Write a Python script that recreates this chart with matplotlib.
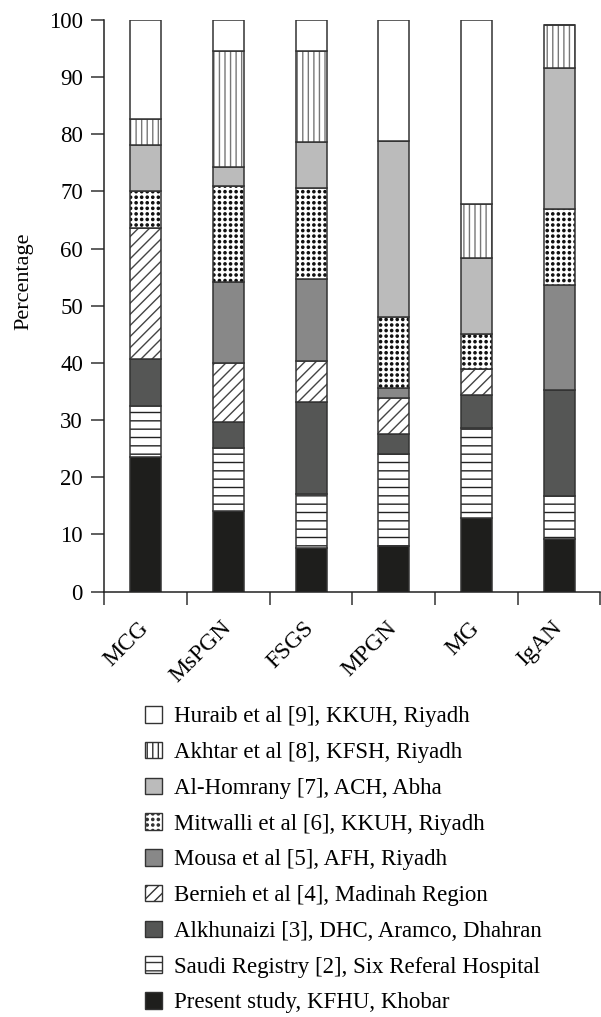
import matplotlib
matplotlib.use("Agg")
import matplotlib.pyplot as plt
import matplotlib.hatch as mhatch
from matplotlib.path import Path
import numpy as np

plt.rcParams['font.family'] = ['Liberation Serif', 'DejaVu Serif']
plt.rcParams['hatch.linewidth'] = 1.0


class GridDots(mhatch.HatchPatternBase):
    # '.' hatch as a square grid of filled dots (default one is staggered)
    def __init__(self, hatch, density):
        self.num_rows = hatch.count('.') * density
        circle = Path.unit_circle()
        self.shape_vertices = circle.vertices
        self.shape_codes = circle.codes
        self.num_vertices = self.num_rows ** 2 * len(self.shape_vertices)

    def set_vertices_and_codes(self, vertices, codes):
        offset = 1.0 / self.num_rows
        shape = self.shape_vertices * offset * 0.2
        n = len(shape)
        k = 0
        for i in range(self.num_rows):
            for j in range(self.num_rows):
                vertices[k:k + n] = shape + ((j + 0.5) * offset, (i + 0.5) * offset)
                codes[k:k + n] = self.shape_codes
                k += n


mhatch._hatch_types[mhatch._hatch_types.index(mhatch.SmallFilledCircles)] = GridDots

# glomerular disease types
categories = ["MCG", "MsPGN", "FSGS", "MPGN", "MG", "IgAN"]

# series, bottom to top (percent of cases)
studies = [
    "Present study, KFHU, Khobar",
    "Saudi Registry [2], Six Referal Hospital",
    "Alkhunaizi [3], DHC, Aramco, Dhahran",
    "Bernieh et al [4], Madinah Region",
    "Mousa et al [5], AFH, Riyadh",
    "Mitwalli et al [6], KKUH, Riyadh",
    "Al-Homrany [7], ACH, Abha",
    "Akhtar et al [8], KFSH, Riyadh",
    "Huraib et al [9], KKUH, Riyadh",
]
present   = [23.5, 14.0, 7.6, 7.9, 12.9, 9.1]
saudi_reg = [9.0, 11.1, 9.5, 16.2, 15.7, 7.6]
alkhun    = [8.1, 4.6, 16.1, 3.5, 5.7, 18.5]
bernieh   = [23.0, 10.3, 7.2, 6.3, 4.6, 0.0]
mousa     = [0.0, 14.2, 14.3, 1.7, 0.0, 18.5]
mitwalli  = [6.5, 16.8, 15.9, 12.4, 6.2, 13.2]
homrany   = [8.0, 3.3, 8.0, 30.8, 13.2, 24.7]
akhtar    = [4.5, 20.3, 16.0, 0.0, 9.5, 7.6]
huraib    = [17.4, 5.4, 5.4, 21.2, 32.2, 0.0]
series = [present, saudi_reg, alkhun, bernieh, mousa, mitwalli, homrany, akhtar, huraib]

# (face colour, hatch, hatch colour) per series
styles = [
    ("#1e1e1c", None, "#1e1e1c"),
    ("white", "--", "#222222"),
    ("#555655", None, "#555655"),
    ("white", "///", "#444444"),
    ("#888888", None, "#888888"),
    ("white", "...", "#111111"),
    ("#bbbbbb", None, "#bbbbbb"),
    ("white", "|||", "#777777"),
    ("white", None, "white"),
]

fig = plt.figure(figsize=(6.01, 10.17), dpi=100)
ax = fig.add_axes([104.3 / 601, 1 - 591.5 / 1017, 496.2 / 601, 571.5 / 1017])

x = np.arange(len(categories))
width = 0.375
bottom = np.zeros(len(categories))
handles = []
for vals, (fc, hatch, hc), name in zip(series, styles, studies):
    vals = np.array(vals)
    ax.bar(x, vals, width, bottom=bottom, color=fc, edgecolor=hc,
           linewidth=0, hatch=hatch)
    ax.bar(x, vals, width, bottom=bottom, fill=False, edgecolor="#333333",
           linewidth=1.1)
    bottom += vals
    handles.append(plt.Rectangle((0, 0), 1, 1, facecolor=fc, hatch=hatch,
                                 edgecolor="#333333", linewidth=1.0))

ax.set_xlim(-0.5, len(categories) - 0.5)
ax.set_ylim(0, 100)
ax.set_yticks(np.arange(0, 101, 10))
ax.set_xticks(np.arange(-0.5, len(categories), 1.0))
ax.set_xticklabels([])
ax.set_xticks(x, minor=True)
ax.set_xticklabels(categories, minor=True, rotation=45, ha="right",
                   va="center", rotation_mode="anchor", fontsize=17)
ax.tick_params(axis="x", which="minor", length=0, pad=24)
ax.tick_params(axis="both", which="major", direction="out", length=9.4,
               width=1.1, color="#333333", labelsize=16.5)
ax.tick_params(axis="y", pad=6)

for s in ["top", "right"]:
    ax.spines[s].set_visible(False)
for s in ["left", "bottom"]:
    ax.spines[s].set_color("#222222")
    ax.spines[s].set_linewidth(1.1)

ax.set_ylabel("Percentage", fontsize=16)
ax.yaxis.set_label_coords(-0.142, 0.543)

fig.legend(handles[::-1], studies[::-1], loc="upper left",
           bbox_to_anchor=(145 / 601, 1 - 706 / 1017), frameon=False,
           fontsize=16.5, handlelength=0.74, handleheight=0.74,
           handletextpad=0.52, labelspacing=0.63, borderpad=0,
           borderaxespad=0)

fig.savefig("out.png", dpi=100)
